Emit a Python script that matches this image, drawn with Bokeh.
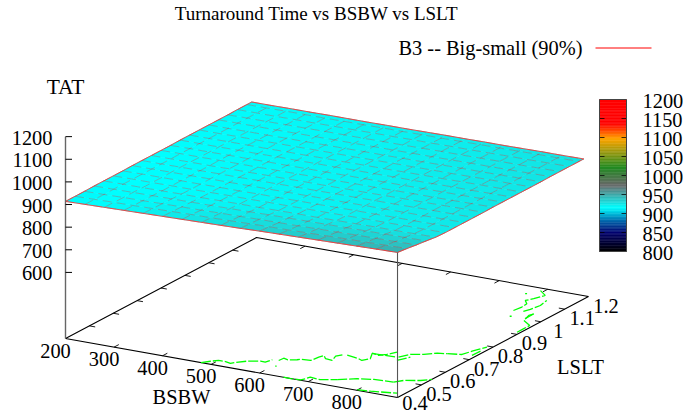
from bokeh.plotting import figure
from bokeh.models import Range1d
from bokeh.core.properties import value
from bokeh.embed import file_html
from bokeh.resources import INLINE
import numpy as np

TITLE = "Turnaround Time vs BSBW vs LSLT"
LEGEND = "B3 -- Big-small (90%)"

BSBW_TICKS = [200, 300, 400, 500, 600, 700, 800]
LSLT_TICKS = [0.4, 0.5, 0.6, 0.7, 0.8, 0.9, 1.0, 1.1, 1.2]
LSLT_LABELS = ["0.4", "0.5", "0.6", "0.7", "0.8", "0.9", "1", "1.1", "1.2"]
TAT_TICKS = [600, 700, 800, 900, 1000, 1100, 1200]
CB_TICKS = [800, 850, 900, 950, 1000, 1050, 1100, 1150, 1200]

BSBW_GRID = [200, 240, 280, 320, 360, 400, 440, 480, 520, 560, 600, 640, 680, 720, 760, 800, 840, 884]
LSLT_GRID = [0.40, 0.44, 0.48, 0.52, 0.56, 0.60, 0.64, 0.68, 0.72, 0.76, 0.80, 0.84, 0.88, 0.92, 0.96, 1.00, 1.04, 1.08, 1.12, 1.16, 1.18]
TAT = [
    [914, 916, 918, 920, 922, 924, 926, 928, 930, 932, 935, 937, 939, 941, 943, 945, 947, 949],
    [914, 916, 918, 919, 921, 923, 925, 926, 928, 930, 932, 933, 935, 937, 939, 940, 942, 944],
    [914, 915, 917, 918, 920, 921, 922, 924, 925, 927, 928, 929, 931, 932, 934, 935, 936, 938],
    [915, 916, 917, 918, 919, 920, 921, 922, 923, 925, 926, 927, 928, 929, 930, 931, 932, 933],
    [915, 916, 916, 917, 918, 918, 919, 920, 920, 921, 922, 922, 923, 924, 925, 925, 926, 927],
    [915, 916, 916, 917, 917, 918, 919, 919, 920, 920, 921, 921, 922, 923, 923, 924, 924, 925],
    [915, 916, 916, 917, 917, 918, 918, 919, 919, 920, 920, 921, 922, 922, 923, 923, 924, 925],
    [916, 916, 917, 917, 918, 918, 919, 919, 920, 920, 921, 921, 922, 922, 923, 923, 924, 925],
    [916, 916, 917, 917, 918, 918, 919, 919, 920, 920, 921, 921, 922, 922, 923, 924, 924, 925],
    [916, 916, 917, 917, 918, 918, 919, 919, 920, 920, 921, 921, 922, 923, 923, 924, 925, 925],
    [916, 917, 917, 918, 918, 918, 919, 919, 920, 920, 921, 921, 922, 923, 923, 924, 925, 926],
    [916, 917, 917, 918, 918, 919, 919, 920, 920, 921, 921, 922, 922, 923, 924, 924, 925, 926],
    [917, 917, 917, 918, 918, 919, 919, 920, 920, 921, 921, 922, 922, 923, 924, 924, 925, 926],
    [917, 917, 918, 918, 918, 919, 919, 920, 920, 921, 921, 922, 923, 923, 924, 925, 925, 926],
    [917, 917, 918, 918, 919, 919, 920, 920, 920, 921, 922, 922, 923, 923, 924, 925, 925, 926],
    [917, 917, 918, 918, 919, 919, 920, 920, 921, 921, 922, 922, 923, 924, 924, 925, 926, 926],
    [917, 918, 918, 918, 919, 919, 920, 920, 921, 921, 922, 922, 923, 924, 924, 925, 926, 927],
    [917, 918, 918, 919, 919, 920, 920, 920, 921, 921, 922, 923, 923, 924, 925, 925, 926, 927],
    [918, 918, 918, 919, 919, 920, 920, 921, 921, 922, 922, 923, 923, 924, 925, 925, 926, 927],
    [918, 918, 919, 919, 919, 920, 920, 921, 921, 922, 922, 923, 924, 924, 925, 926, 926, 927],
    [918, 918, 919, 919, 920, 920, 920, 921, 921, 922, 923, 923, 924, 924, 925, 926, 926, 927],
]

CONTOUR_B = [
    [479, 490, 500, 514, 527, 532, 546, 567, 577, 581],
    [593, 594, 605, 619, 623, 642, 645, 648, 660, 675, 668, 676],
    [683, 699, 711, 721, 729, 716, 732, 742, 751],
    [768, 778, 799, 816, 833],
    [833, 858, 864, 875],
    [719, 766],
    [775, 786],
    [876, 877],
    [649, 664, 683, 687, 690, 713, 739],
    [739, 767, 795, 833],
    [833, 844, 870, 884],
    [799, 824, 871],
    [878, 878, 878, 854, 847, 852],
    [809, 812, 810, 798, 806, 814, 792],
    [827, 832, 836, 831],
    [851, 850],
    [778, 781],
    [820, 823],
    [604, 606],
]
CONTOUR_L = [
    [0.40, 0.418, 0.431, 0.432, 0.426, 0.437, 0.457, 0.471, 0.470, 0.492],
    [0.494, 0.513, 0.508, 0.518, 0.525, 0.528, 0.556, 0.572, 0.554, 0.551, 0.580, 0.599],
    [0.598, 0.593, 0.589, 0.582, 0.601, 0.636, 0.630, 0.644, 0.668],
    [0.640, 0.669, 0.683, 0.705, 0.712],
    [0.712, 0.723, 0.753, 0.793],
    [0.634, 0.639],
    [0.619, 0.653],
    [0.728, 0.762],
    [0.40, 0.40, 0.403, 0.414, 0.429, 0.424, 0.442],
    [0.442, 0.469, 0.482, 0.487],
    [0.487, 0.508, 0.525, 0.544],
    [0.404, 0.409, 0.425],
    [0.913, 0.941, 0.966, 0.990, 1.025, 1.042],
    [1.038, 1.067, 1.092, 1.110, 1.129, 1.161, 1.185],
    [1.043, 1.062, 1.096, 1.133],
    [1.002, 1.040],
    [1.150, 1.152],
    [1.000, 1.002],
    [0.457, 0.459],
]

PALETTE_VALUES = [800, 850, 880, 916, 975, 1022, 1097, 1137, 1200]
PALETTE_R = [0, 0, 0, 0, 105, 34, 255, 255, 255]
PALETTE_G = [0, 0, 100, 255, 105, 139, 165, 0, 0]
PALETTE_B = [0, 110, 170, 255, 105, 34, 0, 0, 0]

SERIF = value("Liberation Serif")
FS = "20.4px"


def project(b, l, z=308.0):
    b, l, z = np.asarray(b, float), np.asarray(l, float), np.asarray(z, float)
    x = 65 + (b - 200) * 0.4854 + (l - 0.4) * 238.75
    y = 338 + (b - 200) * 0.08626 - (l - 0.4) * 126.25 - (z - 308) * 0.2263
    return x, y


def colour(v):
    r = int(round(float(np.interp(v, PALETTE_VALUES, PALETTE_R))))
    g = int(round(float(np.interp(v, PALETTE_VALUES, PALETTE_G))))
    bl = int(round(float(np.interp(v, PALETTE_VALUES, PALETTE_B))))
    return f"#{r:02x}{g:02x}{bl:02x}"


p = figure(width=683, height=414, x_range=Range1d(0, 683), y_range=Range1d(414, 0),
           toolbar_location=None, output_backend="svg", min_border=0,
           outline_line_color=None, background_fill_color="white")
p.axis.visible = False
p.grid.visible = False

# base frame
B0, B1, L0, L1 = 200, 884, 0.4, 1.2
fx, fy = project([B0, B1, B1, B0, B0], [L0, L0, L1, L1, L0])
p.line(fx, fy, line_color="black", line_width=1.1)

# ticks on the base
tx, ty = [], []
for b in BSBW_TICKS[1:]:
    a = project([b, b], [L0, L0 + 0.02])
    c = project([b, b], [L1, L1 - 0.02])
    tx += [list(a[0]), list(c[0])]
    ty += [list(a[1]), list(c[1])]
for l in LSLT_TICKS[1:-1]:
    a = project([B0, B0 + 12], [l, l])
    c = project([B1, B1 - 12], [l, l])
    tx += [list(a[0]), list(c[0])]
    ty += [list(a[1]), list(c[1])]
p.multi_line(tx, ty, line_color="black", line_width=0.9)

# contours on the base
cxs, cys = [], []
for cb, cl in zip(CONTOUR_B, CONTOUR_L):
    x, y = project(cb, cl)
    cxs.append(list(x))
    cys.append(list(y))
p.multi_line(cxs, cys, line_color="#00ff00", line_width=1.3, line_dash="10 2")

# surface
Z = np.array(TAT, float)
gb, gl = np.meshgrid(BSBW_GRID, LSLT_GRID)
sx, sy = project(gb, gl, Z)
pxs, pys, pcol = [], [], []
for i in range(Z.shape[0] - 1):
    for j in range(Z.shape[1] - 1):
        pxs.append([sx[i, j], sx[i, j + 1], sx[i + 1, j + 1], sx[i + 1, j]])
        pys.append([sy[i, j], sy[i, j + 1], sy[i + 1, j + 1], sy[i + 1, j]])
        pcol.append(colour(Z[i:i + 2, j:j + 2].mean()))
p.patches(pxs, pys, fill_color=pcol, line_color=pcol, line_width=0.6)

mx = [list(r) for r in sx] + [list(r) for r in sx.T]
my = [list(r) for r in sy] + [list(r) for r in sy.T]
p.multi_line(mx, my, line_color="#ff0000", line_alpha=0.34, line_width=0.8, line_dash="9 5")
ex = list(sx[0, :]) + list(sx[:, -1]) + list(sx[-1, ::-1]) + list(sx[::-1, 0])
ey = list(sy[0, :]) + list(sy[:, -1]) + list(sy[-1, ::-1]) + list(sy[::-1, 0])
p.line(ex, ey, line_color="#ff3030", line_width=0.9, line_alpha=0.9)

# vertical axes
ax, ay = project([B0, B0], [L0, L0], [1200, 308])
p.line(ax, ay, line_color="#666666", line_width=1.4)
vx, vy = project([B1, B1], [L0, L0], [Z[0, -1], 308])
p.line(vx, vy, line_color="#555555", line_width=1.1)
zx, zy = [], []
for t in TAT_TICKS:
    x, y = project([B0, B0], [L0, L0], [t, t])
    zx.append([x[0], x[0] + 6.5])
    zy.append([y[0], y[1]])
p.multi_line(zx, zy, line_color="black", line_width=1)

# tick labels
x, y = project([B0] * len(TAT_TICKS), [L0] * len(TAT_TICKS), TAT_TICKS)
p.text(x, y, text=[str(t) for t in TAT_TICKS], text_font=SERIF, text_font_size=FS,
       text_align="right", text_baseline="middle", text_color="black", x_offset=-13, y_offset=1)
x, y = project(BSBW_TICKS, [L0] * len(BSBW_TICKS))
p.text(x, y, text=[str(t) for t in BSBW_TICKS], text_font=SERIF, text_font_size=FS,
       text_align="center", text_baseline="middle", text_color="black", x_offset=-10, y_offset=12)
x, y = project([B1] * len(LSLT_TICKS), LSLT_TICKS)
p.text(x[1:], y[1:], text=LSLT_LABELS[1:], text_font=SERIF, text_font_size=FS,
       text_align="center", text_baseline="middle", text_color="black", x_offset=17.5, y_offset=9)
p.text(x[:1], y[:1], text=LSLT_LABELS[:1], text_font=SERIF, text_font_size=FS,
       text_align="center", text_baseline="middle", text_color="black", x_offset=17.5, y_offset=5)

# colour bar
def cb_y(v):
    return 251 - (np.asarray(v, float) - 800) * 0.38

levels = np.arange(800, 1200, 4)
CBL, CBR = 599, 626
p.quad(left=CBL, right=CBR, bottom=cb_y(levels), top=cb_y(levels + 4),
       fill_color=[colour(v + 2) for v in levels], line_color=[colour(v + 2) for v in levels], line_width=0.5)
p.multi_line([[CBL, CBL + 5] for _ in CB_TICKS[1:-1]] + [[CBR - 5, CBR] for _ in CB_TICKS[1:-1]],
             [[float(cb_y(t))] * 2 for t in CB_TICKS[1:-1]] * 2, line_color="black", line_alpha=0.75, line_width=1)
p.line([CBL, CBR, CBR, CBL, CBL], [cb_y(800), cb_y(800), cb_y(1200), cb_y(1200), cb_y(800)],
       line_color="#444444", line_width=1)
p.text([642] * len(CB_TICKS), cb_y(CB_TICKS), text=[str(t) for t in CB_TICKS], text_font=SERIF, text_font_size=FS,
       text_align="left", text_baseline="middle", text_color="black", y_offset=1)

# titles and legend
p.text([316], [13], text=[TITLE], text_font=SERIF, text_font_size="19px", text_align="center", text_baseline="middle", text_color="black")
p.text([65], [86], text=["TAT"], text_font=SERIF, text_font_size="21.5px", text_align="center", text_baseline="middle", text_color="black")
p.text([181], [396], text=["BSBW"], text_font=SERIF, text_font_size=FS, text_align="center", text_baseline="middle", text_color="black")
p.text([580], [366], text=["LSLT"], text_font=SERIF, text_font_size=FS, text_align="center", text_baseline="middle", text_color="black")
p.text([582], [47], text=[LEGEND], text_font=SERIF, text_font_size=FS, text_align="right", text_baseline="middle", text_color="black")
p.line([595, 651], [47.5, 47.5], line_color="#ff0000", line_width=1)

open("out.html", "w").write(file_html(p, INLINE))
